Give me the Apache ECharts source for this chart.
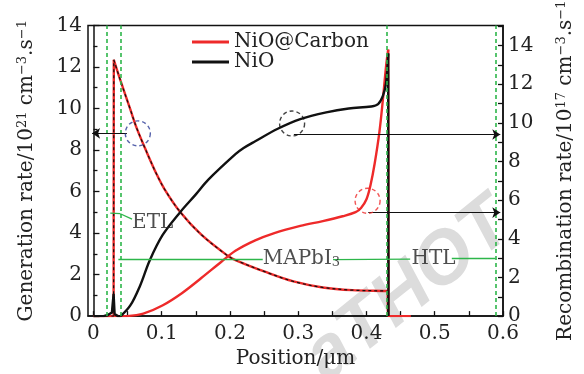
<!DOCTYPE html>
<html>
<head>
<meta charset="utf-8">
<script src="https://cdn.jsdelivr.net/npm/echarts@6/dist/echarts.min.js"></script>
<style>
html, body { margin: 0; padding: 0; background: #fff; }
#chart { width: 584px; height: 374px; }
</style>
</head>
<body>
<div id="chart"></div>
<script>
// position in um
// generation rate (10^21 cm^-3 s^-1), same for both samples
var genData = [
  [0, 0], [0.0295, 0], [0.0298, 12.34], [0.040, 11.3], [0.054, 9.95], [0.0635, 9.04],
  [0.0777, 7.92], [0.092, 6.87], [0.104, 6.12], [0.1274, 5.0], [0.158, 3.92],
  [0.196, 2.92], [0.208, 2.7], [0.251, 2.14], [0.293, 1.67], [0.336, 1.38],
  [0.379, 1.25], [0.4286, 1.21], [0.431, 1.2], [0.4315, 0]
]
// recombination rate (10^17 cm^-3 s^-1)
var recCarbon = [
  [0, 0], [0.049, 0], [0.073, 0.13], [0.101, 0.55], [0.13, 1.2], [0.158, 1.97],
  [0.187, 2.8], [0.208, 3.38], [0.237, 3.92], [0.265, 4.3], [0.303, 4.67],
  [0.336, 4.92], [0.365, 5.17], [0.384, 5.38], [0.392, 5.6], [0.40, 6.05],
  [0.406, 6.8], [0.412, 7.9], [0.419, 9.55], [0.424, 11.2], [0.4286, 12.9],
  [0.4318, 13.8], [0.4322, 0], [0.465, 0]
]
var recNiO = [
  [0, 0], [0.015, 0], [0.022, 0.08], [0.027, 0.18], [0.0295, 1.15], [0.031, 0.1],
  [0.036, 0], [0.040, 0], [0.054, 0.55], [0.068, 1.55], [0.0824, 2.88],
  [0.1014, 4.2], [0.127, 5.38], [0.15, 6.3], [0.168, 7.05], [0.208, 8.38],
  [0.22, 8.7], [0.237, 9.05], [0.27, 9.7], [0.303, 10.2], [0.341, 10.55],
  [0.374, 10.75], [0.407, 10.85], [0.417, 10.97], [0.424, 11.4], [0.4286, 12.05],
  [0.4318, 13.6], [0.4322, 0]
]
var layerEdges = [0.0247, 0.0365, 0.432, 0.589]
var xTicks = [0, 0.1, 0.2, 0.3, 0.4, 0.5, 0.6]
var xMinorTicks = [0, 0.05, 0.1, 0.15, 0.2, 0.25, 0.3, 0.35, 0.4, 0.45, 0.5, 0.55, 0.6]
var rightTicks = [0, 2, 4, 6, 8, 10, 12, 14]
var rightMinorTicks = [0, 1, 2, 3, 4, 5, 6, 7, 8, 9, 10, 11, 12, 13, 14, 15]

var FONT = 'DejaVu Serif'
var RED = '#ee2a2a'
var GREEN = '#2db64a'

var myChart = echarts.init(document.getElementById('chart'))

var supRich = {
  sup: { fontFamily: FONT, fontSize: 13, padding: [0, 0, 9, 0], verticalAlign: 'top', color: '#222' }
}

// one curve = straight jumps at the layer edges + smooth body
function curve(name, data, from, to, yIdx, style, z) {
  var base = {
    type: 'line', yAxisIndex: yIdx, z: z, showSymbol: false,
    silent: true, lineStyle: style, itemStyle: { color: style.color }
  }
  return [
    Object.assign({}, base, { name: name, data: data.slice(from, to + 1), smooth: 0.35 }),
    Object.assign({}, base, { name: name + '-a', data: data.slice(0, from + 1) }),
    Object.assign({}, base, { name: name + '-b', data: data.slice(to) })
  ]
}

var redSolid = { color: RED, width: 2.4 }
var blackSolid = { color: '#111', width: 2.4 }
var blackDash = { color: '#111', width: 1.2, type: [3, 3] }

var option = {
  animation: false,
  backgroundColor: '#fff',
  grid: {
    left: 88, right: 67, top: 20, bottom: 53,
    show: true, borderColor: '#111', borderWidth: 1.5
  },
  legend: {
    data: ['NiO@Carbon', 'NiO'],
    orient: 'vertical',
    left: 192, top: 32,
    itemGap: 0, padding: 0,
    icon: 'rect', itemWidth: 37, itemHeight: 3,
    textStyle: { fontFamily: FONT, fontSize: 20, color: '#222', lineHeight: 20 }
  },
  graphic: [{
    type: 'text',
    x: 338, y: 396, rotation: 0.68, z: -1,
    style: {
      text: 'aTHOT',
      font: 'italic bold 74px "Liberation Sans"',
      fill: '#dcdcdc',
      textAlign: 'left', textVerticalAlign: 'bottom'
    }
  }],
  xAxis: {
    type: 'value',
    min: -0.008, max: 0.6,
    name: 'Position/μm',
    nameLocation: 'middle', nameGap: 31,
    nameTextStyle: { fontFamily: FONT, fontSize: 20, color: '#222' },
    axisLine: { lineStyle: { color: '#111', width: 1.5 } },
    axisTick: { inside: true, length: 5, customValues: xMinorTicks, lineStyle: { color: '#111', width: 1.3 } },
    axisLabel: {
      customValues: xTicks, margin: 8,
      fontFamily: FONT, fontSize: 20, color: '#222',
      formatter: function (v) { return v === 0 ? '0' : v.toFixed(1) }
    },
    splitLine: { show: false }
  },
  yAxis: [
    {
      type: 'value', min: 0, max: 14, interval: 2,
      name: 'Generation rate/10{sup|21} cm{sup|−3}.s{sup|−1}',
      nameLocation: 'middle', nameRotate: 90, nameGap: 50,
      nameTextStyle: { fontFamily: FONT, fontSize: 20, color: '#222', rich: supRich },
      axisLine: { show: true, lineStyle: { color: '#111', width: 1.5 } },
      axisTick: { inside: true, length: 6, lineStyle: { color: '#111', width: 1.3 } },
      minorTick: { show: true, splitNumber: 2, length: 4, lineStyle: { color: '#111', width: 1.3 } },
      axisLabel: { margin: 6, fontFamily: FONT, fontSize: 20, color: '#222' },
      splitLine: { show: false }
    },
    {
      type: 'value', min: 0, max: 15.05, position: 'right',
      name: 'Recombination rate/10{sup|17} cm{sup|−3}.s{sup|−1}',
      nameLocation: 'middle', nameRotate: 90, nameGap: 52,
      nameTextStyle: { fontFamily: FONT, fontSize: 20, color: '#222', rich: supRich },
      axisLine: { show: true, lineStyle: { color: '#111', width: 1.5 } },
      axisTick: { inside: true, length: 5, customValues: rightMinorTicks, lineStyle: { color: '#111', width: 1.3 } },
      axisLabel: { customValues: rightTicks, margin: 5, fontFamily: FONT, fontSize: 20, color: '#222' },
      splitLine: { show: false }
    }
  ],
  series: [].concat(
    curve('gen-carbon', genData, 2, 18, 0, redSolid, 3),
    curve('gen-nio', genData, 2, 18, 0, blackDash, 4),
    curve('NiO@Carbon', recCarbon, 1, 21, 1, redSolid, 3),
    curve('NiO', recNiO, 7, 26, 1, blackSolid, 3),
    [
      {
        // layer boundaries and labels
        name: 'layers', type: 'scatter', yAxisIndex: 0, z: 6,
        symbolSize: 0, silent: true,
        data: [
          { value: [0.0565, 4.47], label: { formatter: 'ETL' } },
          { value: [0.248, 2.77], label: { formatter: 'MAPbI{sub|3}' } },
          { value: [0.466, 2.77], label: { formatter: 'HTL' } }
        ],
        label: {
          show: true, position: 'right', distance: 0,
          fontFamily: FONT, fontSize: 20, color: '#222',
          rich: { sub: { fontFamily: FONT, fontSize: 13, padding: [9, 0, 0, 0], verticalAlign: 'bottom', color: '#222' } }
        },
        markLine: {
          silent: true, symbol: 'none', animation: false,
          label: { show: false },
          lineStyle: { color: GREEN, width: 1.3, type: 'solid' },
          data: [
            [{ coord: [0.0365, 2.76] }, { coord: [0.248, 2.76] }],
            [{ coord: [0.351, 2.72] }, { coord: [0.464, 2.74] }],
            [{ coord: [0.525, 2.79] }, { coord: [0.589, 2.79] }],
            [{ coord: [0.0247, 4.96] }, { coord: [0.0393, 4.93] }],
            [{ coord: [0.0393, 4.93] }, { coord: [0.0565, 4.67] }]
          ].concat(layerEdges.map(function (x) {
            return { xAxis: x, lineStyle: { color: GREEN, type: [4, 3], width: 1.6 } }
          }))
        }
      },
      {
        // highlight on the generation curve
        name: 'mark-gen', type: 'scatter', yAxisIndex: 0, z: 5, silent: true,
        data: [[0.065, 8.8]], symbolSize: 25,
        itemStyle: { color: 'rgba(0,0,0,0)', borderColor: '#2b3a96', borderWidth: 1.4, borderType: [4, 3] },
        markLine: {
          silent: true, symbol: ['none', 'arrow'], symbolSize: 8,
          label: { show: false },
          lineStyle: { color: '#111', width: 1.2, type: 'solid' },
          data: [[{ coord: [0.049, 8.8] }, { coord: [-0.002, 8.8] }]]
        }
      },
      {
        // highlights on the recombination curves
        name: 'mark-rec', type: 'scatter', yAxisIndex: 1, z: 5, silent: true,
        data: [
          { value: [0.291, 9.97], itemStyle: { borderColor: '#111' } },
          { value: [0.4016, 5.97], itemStyle: { borderColor: RED } }
        ],
        symbolSize: 25,
        itemStyle: { color: 'rgba(0,0,0,0)', borderWidth: 1.4, borderType: [4, 3] },
        markLine: {
          silent: true, symbol: ['none', 'arrow'], symbolSize: 8,
          label: { show: false },
          lineStyle: { color: '#111', width: 1.2, type: 'solid' },
          data: [
            [{ coord: [0.2936, 9.4] }, { coord: [0.596, 9.4] }],
            [{ coord: [0.4026, 5.36] }, { coord: [0.596, 5.36] }]
          ]
        }
      }
    ]
  )
}

myChart.setOption(option)
</script>
</body>
</html>
